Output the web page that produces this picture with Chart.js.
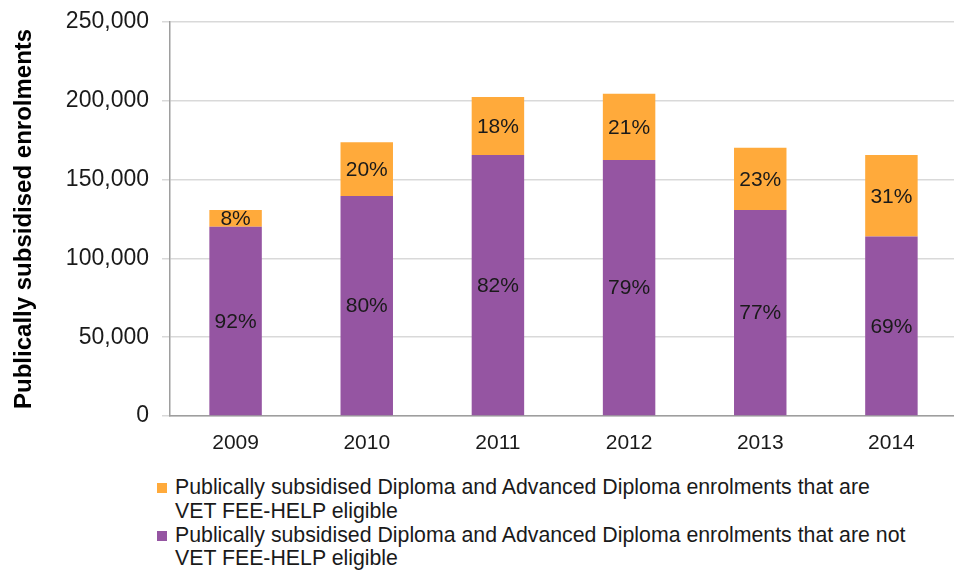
<!DOCTYPE html>
<html>
<head>
<meta charset="utf-8">
<script src="https://cdn.jsdelivr.net/npm/chart.js@4"></script>
<style>
  html, body { margin: 0; padding: 0; background: #fff; overflow: hidden; }
  #wrap { position: relative; width: 954px; height: 572px; overflow: hidden; }
  #chart { position: absolute; left: 0; top: -5px; }
  #legend { position: absolute; left: 157px; top: 476px; font-family: "Liberation Sans", Arial, sans-serif; font-size: 21.3px; color: #1a1a1a; }
  .item { display: flex; align-items: flex-start; line-height: 23.8px; }
  .box { width: 10px; height: 10px; margin: 7px 8px 0 0; flex: none; }
</style>
</head>
<body>
<div id="wrap">
  <canvas id="chart" width="957" height="465"></canvas>
  <div id="legend"></div>
</div>
<script>
// values (enrolments)
const years = ['2009', '2010', '2011', '2012', '2013', '2014'];
const eligible = [10600, 34100, 36700, 42100, 39500, 51800];
const notEligible = [120100, 139500, 165600, 162300, 130700, 113800];
const eligiblePct = ['8%', '20%', '18%', '21%', '23%', '31%'];
const notEligiblePct = ['92%', '80%', '82%', '79%', '77%', '69%'];
const legendLines = [
    ['Publically subsidised Diploma and Advanced Diploma enrolments that are', 'VET FEE-HELP eligible'],
    ['Publically subsidised Diploma and Advanced Diploma enrolments that are not', 'VET FEE-HELP eligible']
];

const ORANGE = '#FFAA3B';
const PURPLE = '#9555A2';
const FONT = '"Liberation Sans", Arial, sans-serif';

// draw the percentage in the middle of each bar segment
const segmentLabels = {
    id: 'segmentLabels',
    afterDatasetsDraw(chart) {
        const ctx = chart.ctx;
        ctx.save();
        ctx.font = '21px ' + FONT;
        ctx.fillStyle = '#1a1a1a';
        ctx.textAlign = 'center';
        ctx.textBaseline = 'middle';
        chart.data.datasets.forEach((ds, i) => {
            chart.getDatasetMeta(i).data.forEach((bar, j) => {
                ctx.fillText(ds.pctLabels[j], bar.x, (bar.y + bar.base) / 2 + 1);
            });
        });
        ctx.restore();
    }
};

new Chart(document.getElementById('chart'), {
    type: 'bar',
    data: {
        labels: years,
        datasets: [
            { label: 'not eligible', data: notEligible, pctLabels: notEligiblePct, backgroundColor: PURPLE },
            { label: 'eligible', data: eligible, pctLabels: eligiblePct, backgroundColor: ORANGE }
        ]
    },
    options: {
        responsive: false,
        animation: false,
        layout: { padding: 0 },
        barPercentage: 0.4,
        categoryPercentage: 1,
        plugins: { legend: { display: false }, tooltip: { enabled: false } },
        scales: {
            x: {
                stacked: true,
                grid: { display: false, drawTicks: false },
                border: { color: '#9e9e9e', width: 1.5 },
                ticks: { font: { family: FONT, size: 21 }, color: '#1a1a1a', padding: 15 },
                afterFit: s => { s.height = 44; }
            },
            y: {
                stacked: true,
                min: 0,
                max: 250000,
                grid: { color: '#d9d9d9', lineWidth: 1.5, tickLength: 8 },
                border: { color: '#9e9e9e', width: 1.5 },
                ticks: {
                    stepSize: 50000,
                    padding: 13,
                    font: { family: FONT, size: 23 },
                    color: '#1a1a1a',
                    callback: v => v.toLocaleString('en-US')
                },
                title: {
                    display: true,
                    text: 'Publically subsidised enrolments',
                    font: { family: FONT, size: 24, weight: 'bold' },
                    color: '#000',
                    padding: { top: 10, bottom: 0 }
                },
                afterFit: s => { s.width = 170; }
            }
        }
    },
    plugins: [segmentLabels]
});

// legend below the chart, orange first
const legendEl = document.getElementById('legend');
[ORANGE, PURPLE].forEach((c, i) => {
    const row = document.createElement('div');
    row.className = 'item';
    row.innerHTML = '<span class="box" style="background:' + c + '"></span><span>' +
        legendLines[i].join('<br>') + '</span>';
    legendEl.appendChild(row);
});
</script>
</body>
</html>
